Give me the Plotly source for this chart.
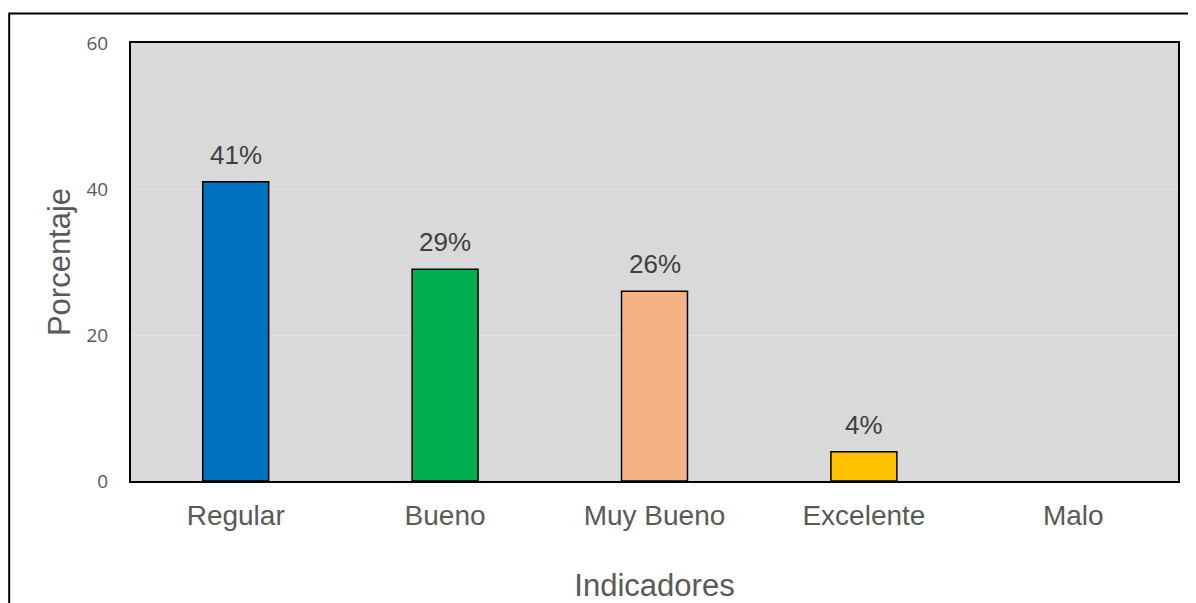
import plotly.graph_objects as go

categories = ["Regular", "Bueno", "Muy Bueno", "Excelente", "Malo"]
values = [41, 29, 26, 4, 0]
labels = ["41%", "29%", "26%", "4%", ""]
colors = ["#0070C0", "#00B050", "#F4B183", "#FFC000", "#A5A5A5"]
outline = [1.5, 1.5, 1.5, 1.5, 0]
y_ticks = [0, 20, 40, 60]

# page offset (browser body margin) is 8px
OFF = 8
W, H = 1196 - OFF, 603 - OFF
L, T = 131 - OFF, 43 - OFF
R = W - (1178 - OFF)
B = H - (481 - OFF)
pw, ph = W - L - R, H - T - B

fig = go.Figure()
fig.add_trace(go.Bar(
    x=categories, y=values,
    marker=dict(color=colors, line=dict(color="black", width=outline)),
    width=0.315,
    hoverinfo="skip",
))

for c, v, t in zip(categories, values, labels):
    if t:
        fig.add_annotation(x=c, y=v, text=t, showarrow=False, yanchor="bottom",
                           yshift=10, font=dict(family="Liberation Sans, Arial", size=26, color="#404040"))

# outer border (chart area frame)
fig.add_shape(type="rect", xref="paper", yref="paper",
              x0=(1.2 - L) / pw, x1=(W + 20 - L) / pw,
              y0=1 - (H + 20 - T) / ph, y1=1 + (T - (13.5 - OFF)) / ph,
              line=dict(color="black", width=2), fillcolor="rgba(0,0,0,0)", layer="below")

fig.update_layout(
    width=W, height=H,
    margin=dict(l=L, r=R, t=T, b=B, autoexpand=False),
    paper_bgcolor="white",
    plot_bgcolor="#D9D9D9",
    showlegend=False,
    font=dict(family="Liberation Sans, Arial", color="#595959"),
    xaxis=dict(
        showline=True, mirror=True, linecolor="black", linewidth=2,
        ticks="", showgrid=False,
        tickfont=dict(family="Liberation Sans, Arial", size=28, color="#595959"),
        ticklabelstandoff=8,
        title=dict(text="Indicadores", font=dict(family="Liberation Sans, Arial", size=31, color="#595959"), standoff=46),
    ),
    yaxis=dict(
        range=[0, 60], tickvals=y_ticks,
        showline=True, mirror=True, linecolor="black", linewidth=2,
        ticks="", showgrid=True, gridcolor="#E2E2E2", gridwidth=1, zeroline=False,
        tickfont=dict(family="Open Sans, Noto Sans", size=19, color="#595959"),
        ticklabelstandoff=17,
        title=dict(text="Porcentaje", font=dict(family="Liberation Sans, Arial", size=31, color="#595959"), standoff=7),
    ),
)

fig.write_html("out.html")
